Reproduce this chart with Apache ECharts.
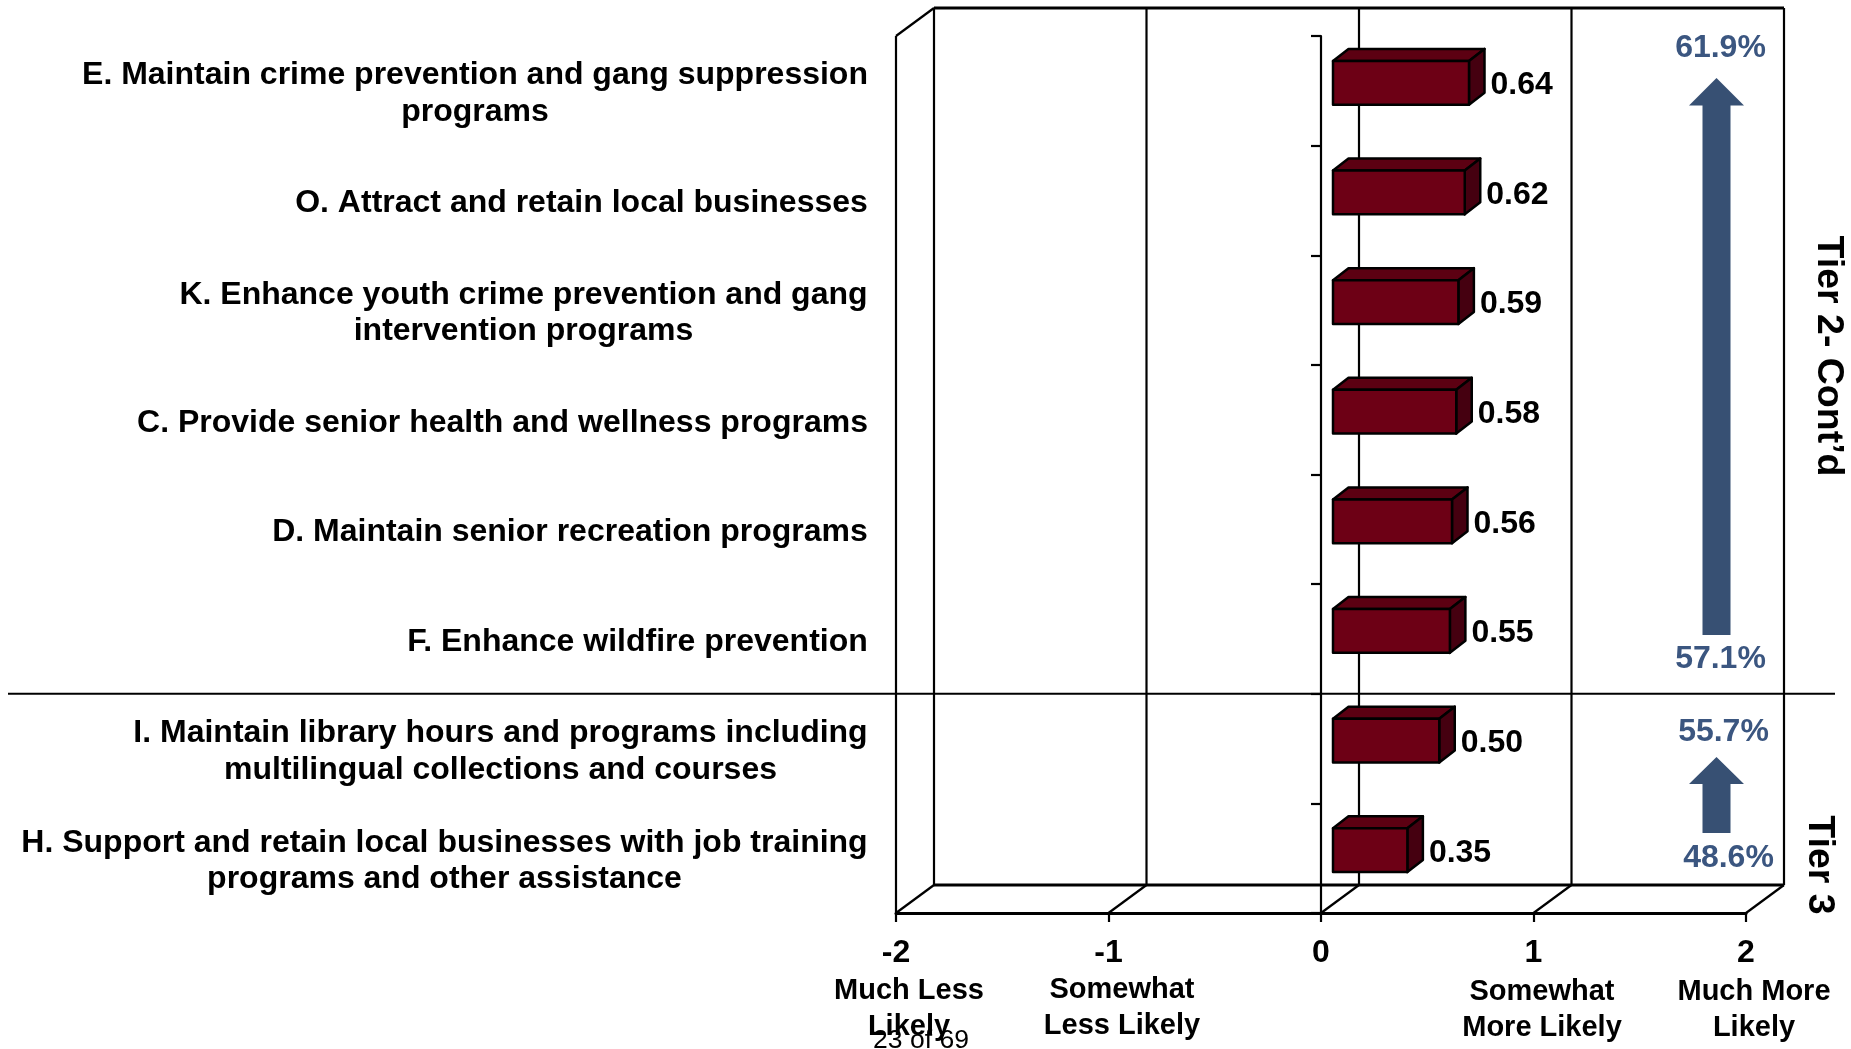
<!DOCTYPE html>
<html>
<head>
<meta charset="utf-8">
<title>Tier 2 and Tier 3 ratings</title>
<style>
  html, body { margin: 0; padding: 0; background: #fff; }
  #chart { width: 1851px; height: 1049px; }
</style>
<script src="https://cdn.jsdelivr.net/npm/echarts@6/dist/echarts.min.js"></script>
</head>
<body>
<div id="chart"></div>
<script>
const categories = [
  'E. Maintain crime prevention and gang suppression\nprograms',
  'O. Attract and retain local businesses',
  'K. Enhance youth crime prevention and gang\nintervention programs',
  'C. Provide senior health and wellness programs',
  'D. Maintain senior recreation programs',
  'F. Enhance wildfire prevention',
  'I. Maintain library hours and programs including\nmultilingual collections and courses',
  'H. Support and retain local businesses with job training\nprograms and other assistance'
]
const meanScores = [0.64, 0.62, 0.59, 0.58, 0.56, 0.55, 0.50, 0.35]
const valueTicks = [-2, -1, 0, 1, 2]
const scaleNames = ['Much Less\nLikely', 'Somewhat\nLess Likely', 'Somewhat\nMore Likely', 'Much More\nLikely']
const tierNames = ['Tier 2- Cont’d', 'Tier 3']
const tierPercents = ['61.9%', '57.1%', '55.7%', '48.6%']
const tier2Rows = 6 // rows above the separator line
const pageNote = '23 of 69'

const FONT = '"Liberation Sans", Arial, sans-serif'
const LABEL_SIZE = 32
const BLUE = '#3b5680'
const ARROW = '#375073'
const LINE = '#000'

// 3D depth of the chart box and of the bars, in px
const WALL_DX = 38
const WALL_DY = 28
const BAR_DX = 15.5
const BAR_DY = 12
const BAR_SHIFT_X = 12
const BAR_SHIFT_Y = 8

// widest line of each category, so the wrapped line can be centred under it
const ctx = document.createElement('canvas').getContext('2d')
ctx.font = `bold ${LABEL_SIZE}px ${FONT}`
const labelRich = {}
categories.forEach((c, i) => {
  labelRich['c' + i] = {
    width: Math.ceil(Math.max(...c.split('\n').map(s => ctx.measureText(s).width))),
    align: 'center',
    fontFamily: FONT,
    fontWeight: 'bold',
    fontSize: LABEL_SIZE,
    lineHeight: 36.5,
    color: '#000'
  }
})

const line = (x1, y1, x2, y2, width) => ({
  type: 'line',
  shape: { x1, y1, x2, y2 },
  style: { stroke: LINE, lineWidth: width || 2.2 }
})

const renderFrame = (params, api) => {
  const box = params.coordSys
  const v = api.value(0)
  const x = api.coord([v, 0])[0]
  const top = box.y
  const bottom = box.y + box.height
  const children = [
    line(x + WALL_DX, top - WALL_DY, x + WALL_DX, bottom - WALL_DY),
    line(x, bottom, x + WALL_DX, bottom - WALL_DY)
  ]
  if (params.dataIndex === 0) {
    children.push(
      line(x, top, x, bottom),
      line(x, top, x + WALL_DX, top - WALL_DY),
      line(x + WALL_DX, top - WALL_DY, box.x + box.width + WALL_DX, top - WALL_DY, 3),
      line(x + WALL_DX, bottom - WALL_DY, box.x + box.width + WALL_DX, bottom - WALL_DY, 3)
    )
  }
  return { type: 'group', children }
}

const renderBar = (params, api) => {
  const end = api.coord([api.value(0), api.value(1)])
  const start = api.coord([0, api.value(1)])
  const h = api.size([0, 1])[1] * 0.4
  const x0 = start[0] + BAR_SHIFT_X
  const x1 = end[0] + BAR_SHIFT_X
  const y0 = end[1] - BAR_SHIFT_Y - h / 2
  const y1 = y0 + h
  const edge = { stroke: '#000', lineWidth: 2.5, lineJoin: 'round' }
  return {
    type: 'group',
    children: [
      {
        type: 'polygon',
        shape: { points: [[x0, y0], [x0 + BAR_DX, y0 - BAR_DY], [x1 + BAR_DX, y0 - BAR_DY], [x1, y0]] },
        style: { fill: '#5c0012', ...edge }
      },
      {
        type: 'polygon',
        shape: { points: [[x1, y0], [x1 + BAR_DX, y0 - BAR_DY], [x1 + BAR_DX, y1 - BAR_DY], [x1, y1]] },
        style: { fill: '#450010', ...edge }
      },
      {
        type: 'rect',
        shape: { x: x0, y: y0, width: x1 - x0, height: h },
        style: { fill: '#6d0015', ...edge }
      },
      {
        type: 'text',
        x: x1 + BAR_DX + 6,
        y: (y0 + y1) / 2 + 2.5,
        style: {
          text: api.value(0).toFixed(2),
          fill: '#000',
          font: `bold 32px ${FONT}`,
          textAlign: 'left',
          textVerticalAlign: 'middle'
        }
      }
    ]
  }
}

const text = (str, cx, cy, style, rotation) => ({
  type: 'text',
  x: cx,
  y: cy,
  rotation: rotation || 0,
  style: {
    text: str,
    textAlign: 'center',
    textVerticalAlign: 'middle',
    fill: '#000',
    font: `bold 29px ${FONT}`,
    lineHeight: 36,
    ...style
  }
})

const arrow = (cx, top, headBase, bottom) => ({
  type: 'polygon',
  shape: {
    points: [
      [cx, top], [cx + 27.5, headBase], [cx + 14, headBase], [cx + 14, bottom],
      [cx - 14, bottom], [cx - 14, headBase], [cx - 27.5, headBase]
    ]
  },
  style: { fill: ARROW }
})

const percentStyle = { fill: BLUE, font: `bold 32px ${FONT}` }
const tierStyle = { font: `bold 37.5px ${FONT}` }

const chart = echarts.init(document.getElementById('chart'))

const gridLeft = 896
const gridTop = 36
const gridHeight = 877

chart.setOption({
  animation: false,
  backgroundColor: '#fff',
  grid: { left: gridLeft, right: 105, top: gridTop, height: gridHeight, containLabel: false, outerBoundsMode: 'none' },
  xAxis: {
    type: 'value',
    min: valueTicks[0],
    max: valueTicks[valueTicks.length - 1],
    interval: 1,
    splitLine: { show: false },
    axisLine: { show: true, lineStyle: { color: LINE, width: 3 } },
    axisTick: { show: true, length: 9, lineStyle: { color: LINE, width: 2.2 } },
    axisLabel: {
      margin: 24,
      color: '#000',
      fontFamily: FONT,
      fontWeight: 'bold',
      fontSize: 32
    }
  },
  yAxis: {
    type: 'category',
    inverse: true,
    data: categories,
    axisLine: { show: true, onZero: true, lineStyle: { color: LINE, width: 2.2 } },
    axisTick: { show: true, length: 10, lineStyle: { color: LINE, width: 2.2 } },
    axisLabel: {
      // onZero keeps the labels at the grid's left edge
      margin: 28,
      interval: 0,
      align: 'right',
      padding: [6, 0, 0, 0],
      formatter: (value, index) =>
        value.split('\n').map(s => `{c${index}|${s}}`).join('\n'),
      rich: labelRich
    }
  },
  series: [
    {
      type: 'custom',
      name: 'frame',
      silent: true,
      clip: false,
      z: 1,
      encode: { x: 0 },
      data: valueTicks.map(v => [v, 0]),
      renderItem: renderFrame
    },
    {
      type: 'custom',
      name: 'Mean score',
      clip: false,
      z: 3,
      encode: { x: 0, y: 1 },
      data: meanScores.map((v, i) => [v, i]),
      renderItem: renderBar
    }
  ],
  graphic: {
    elements: [
      line(8, gridTop + gridHeight * tier2Rows / categories.length, 1835, gridTop + gridHeight * tier2Rows / categories.length),
      arrow(1716.5, 78, 105.5, 635),
      arrow(1716.5, 757, 784, 833),
      text(tierPercents[0], 1720.5, 48, percentStyle),
      text(tierPercents[1], 1720.5, 659, percentStyle),
      text(tierPercents[2], 1723.5, 732, percentStyle),
      text(tierPercents[3], 1728.5, 858, percentStyle),
      text(tierNames[0], 1828, 356, tierStyle, -Math.PI / 2),
      text(tierNames[1], 1819, 865, tierStyle, -Math.PI / 2),
      text(scaleNames[0], 909, 1009),
      text(scaleNames[1], 1122, 1008),
      text(scaleNames[2], 1542, 1010),
      text(scaleNames[3], 1754, 1010),
      text(pageNote, 921, 1041, { font: `26.5px ${FONT}` })
    ]
  }
})

window.addEventListener('resize', () => chart.resize())
</script>
</body>
</html>
